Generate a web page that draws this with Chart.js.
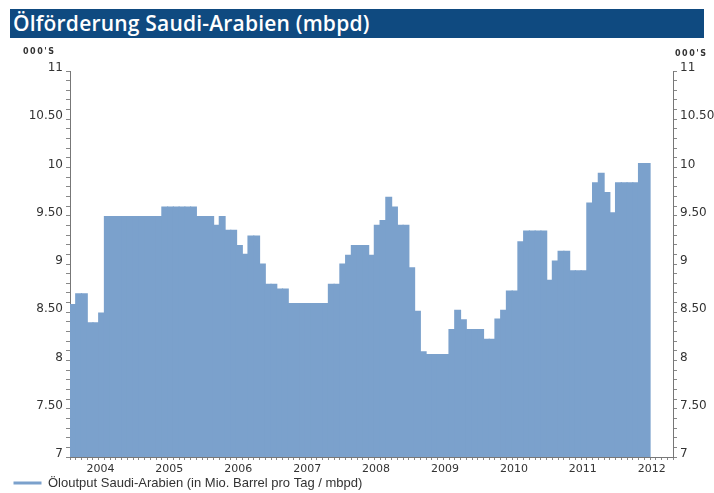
<!DOCTYPE html>
<html>
<head>
<meta charset="utf-8">
<script src="https://cdn.jsdelivr.net/npm/chart.js@4.4.1/dist/chart.umd.min.js"></script>
<style>
  html, body { margin: 0; padding: 0; background: #fff; }
  #wrap { position: relative; width: 714px; height: 493px; overflow: hidden; }
  canvas { position: absolute; left: 0; top: 0; }
  #banner { position: absolute; left: 10px; top: 9px; width: 694px; height: 29px; background: #0f4a80; color: #fff;
            font: 600 21px 'Open Sans', sans-serif; letter-spacing: 0.2px; line-height: 29px; padding-left: 3px;
            box-sizing: border-box; white-space: nowrap; }
  .unit { position: absolute; top: 47px; font: bold 8px 'DejaVu Sans', sans-serif; letter-spacing: 1.5px; color: #333; }
</style>
</head>
<body>
<div id="wrap">
  <canvas id="chart" width="714" height="493"></canvas>
  <div id="banner">Ölförderung Saudi-Arabien (mbpd)</div>
  <div class="unit" style="left:23px">000'S</div>
  <div class="unit" style="left:675px; top:49px">000'S</div>
</div>
<script>
  // monthly output, mbpd, starting Jan 2004
  const yearLabels = ['2004', '2005', '2006', '2007', '2008', '2009', '2010', '2011', '2012'];
  const monthSlots = 105;
  const output = [
    8.58, 8.69, 8.69, 8.39, 8.39, 8.49, 9.49, 9.49, 9.49, 9.49, 9.49, 9.49,
    9.49, 9.49, 9.49, 9.49, 9.59, 9.59, 9.59, 9.59, 9.59, 9.59, 9.49, 9.49,
    9.49, 9.40, 9.49, 9.35, 9.35, 9.19, 9.10, 9.29, 9.29, 9.00, 8.79, 8.79,
    8.74, 8.74, 8.59, 8.59, 8.59, 8.59, 8.59, 8.59, 8.59, 8.79, 8.79, 9.00,
    9.09, 9.19, 9.19, 9.19, 9.09, 9.40, 9.45, 9.69, 9.59, 9.40, 9.40, 8.96,
    8.51, 8.09, 8.06, 8.06, 8.06, 8.06, 8.32, 8.52, 8.42, 8.32, 8.32, 8.32,
    8.22, 8.22, 8.43, 8.52, 8.72, 8.72, 9.23, 9.34, 9.34, 9.34, 9.34, 8.83,
    9.03, 9.13, 9.13, 8.93, 8.93, 8.93, 9.63, 9.84, 9.94, 9.74, 9.53, 9.84,
    9.84, 9.84, 9.84, 10.04, 10.04
  ];
  const seriesName = 'Öloutput Saudi-Arabien (in Mio. Barrel pro Tag / mbpd)';
  const yMin = 7, yMax = 11;

  const fmtY = (v) => {
    if (Math.abs(v * 2 - Math.round(v * 2)) > 1e-6) return '';
    return Number.isInteger(Math.round(v * 100) / 100) ? String(Math.round(v)) : v.toFixed(2);
  };

  const yAxis = (position, width) => ({
    position, min: yMin, max: yMax, beginAtZero: false,
    afterBuildTicks: (s) => {
      s.ticks = [];
      for (let i = 0; i <= (yMax - yMin) * 10; i++) s.ticks.push({ value: +(yMin + i * 0.1).toFixed(1) });
    },
    afterFit: (s) => { s.width = width; },
    grid: { drawOnChartArea: false, tickLength: 4, color: '#888', tickColor: '#888' },
    border: { color: '#777' },
    ticks: { autoSkip: false, padding: 3, labelOffset: -3, color: '#333',
             font: { family: 'DejaVu Sans', size: 12 }, callback: fmtY }
  });

  new Chart(document.getElementById('chart'), {
    type: 'bar',
    data: {
      datasets: [{
        label: seriesName,
        data: output.map((v, i) => ({ x: i + 0.5, y: v })),
        backgroundColor: '#7ba1cc',
        borderWidth: 0,
        inflateAmount: 0.6,
        barPercentage: 1,
        categoryPercentage: 1,
        xAxisID: 'x', yAxisID: 'y'
      }]
    },
    options: {
      responsive: false,
      animation: false,
      layout: { padding: { left: 10, top: 71, right: 0, bottom: 0 } },
      plugins: {
        tooltip: { enabled: false },
        legend: {
          position: 'bottom', align: 'start', maxHeight: 20,
          labels: { boxWidth: 28, boxHeight: 3, padding: 3.5, color: '#333',
                    font: { family: 'Liberation Sans', size: 13 } }
        }
      },
      scales: {
        x: {
          type: 'linear', min: 0, max: monthSlots, offset: false,
          afterBuildTicks: (s) => { s.ticks = Array.from({ length: monthSlots + 1 }, (_, i) => ({ value: i })); },
          afterFit: (s) => { s.height = 16; },
          grid: { drawOnChartArea: false, offset: false, tickLength: 3, color: '#888' },
          border: { color: '#777' },
          ticks: { autoSkip: false, minRotation: 0, maxRotation: 0, padding: 3, labelOffset: -4, color: '#333',
                   font: { family: 'DejaVu Sans', size: 11 },
                   callback: (v) => (v % 12 === 6 ? yearLabels[(v - 6) / 12] : '') }
        },
        y: yAxis('left', 60),
        y2: yAxis('right', 41)
      }
    }
  });
</script>
</body>
</html>
